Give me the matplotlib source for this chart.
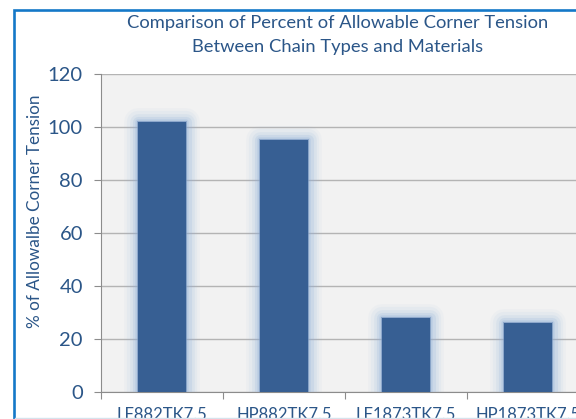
import matplotlib
matplotlib.use("Agg")
import matplotlib.pyplot as plt
import matplotlib.patheffects as pe
from matplotlib.patches import Rectangle
from matplotlib.lines import Line2D

# chart data
chain_types = ["LF882TK7.5", "HP882TK7.5", "LF1873TK7.5", "HP1873TK7.5"]
pct_allowable = [102, 95, 28, 26]
y_ticks = [0, 20, 40, 60, 80, 100, 120]

title_lines = ["Comparison of Percent of Allowable Corner Tension",
               "Between Chain Types and Materials"]
ylabel_text = "% of Allowalbe Corner Tension"

text_blue = "#2b5688"
bar_blue = "#375f93"
glow_blue = "#8fb0d8"
grid_grey = "#b4b4b4"

plt.rcParams["font.family"] = ["Lato", "DejaVu Sans"]

fig = plt.figure(figsize=(5.76, 4.19), dpi=100)

# plot area runs off the right edge, like the cropped screenshot
ax = fig.add_axes([101 / 576, 1 - 391.7 / 419, 488 / 576, 317.4 / 419])
ax.set_facecolor("#f2f2f2")

x = range(len(chain_types))
bars = ax.bar(x, pct_allowable, width=0.4, color=bar_blue, zorder=3)

# soft glow around each bar
glow = [
    pe.Stroke(linewidth=20, foreground=glow_blue, alpha=0.05, joinstyle="round"),
    pe.Stroke(linewidth=16, foreground=glow_blue, alpha=0.08, joinstyle="round"),
    pe.Stroke(linewidth=12, foreground=glow_blue, alpha=0.12, joinstyle="round"),
    pe.Stroke(linewidth=8, foreground=glow_blue, alpha=0.18, joinstyle="round"),
    pe.Stroke(linewidth=4, foreground=glow_blue, alpha=0.25, joinstyle="round"),
    pe.Stroke(linewidth=1.5, foreground="#6f8fbb", alpha=0.6),
    pe.Normal(),
]
for b in bars:
    b.set_path_effects(glow)

ax.set_xlim(-0.5, 3.5)
ax.set_ylim(0, 120)
ax.set_yticks(y_ticks)
ax.yaxis.grid(True, color=grid_grey, linewidth=1.0, zorder=0)
ax.set_axisbelow(True)

ax.set_xticks(list(x))
ax.set_xticklabels(chain_types)
ax.set_xticks([i - 0.5 for i in x] + [3.5], minor=True)
ax.tick_params(axis="x", which="major", length=0, pad=11, labelsize=12, labelcolor=text_blue)
ax.tick_params(axis="x", which="minor", length=5, color="#8c8c8c", width=0.8)
ax.tick_params(axis="y", length=5, color="#8c8c8c", width=0.8, pad=8, labelsize=14.5, labelcolor=text_blue)

for side in ["top", "right"]:
    ax.spines[side].set_visible(False)
for side in ["left", "bottom"]:
    ax.spines[side].set_color("#8c8c8c")
    ax.spines[side].set_linewidth(0.8)

# two-line title, each line placed on its own baseline
for line, base in zip(title_lines, [28.3, 51.7]):
    fig.text(337.5 / 576, 1 - base / 419, line, ha="center", va="baseline",
             fontsize=13.2, color=text_blue)
fig.text(35 / 576, 1 - 211 / 419, ylabel_text, rotation=90, ha="center", va="center",
         fontsize=12.3, color=text_blue)

# chart frame border (blue left/top edge of the screenshot)
fig.add_artist(Rectangle((13.9 / 576, -0.1), 1.2, 1 - 10 / 419 + 0.1, transform=fig.transFigure,
                         fill=False, edgecolor="#1478c8", linewidth=1.9))
fig.add_artist(Line2D([15 / 576, 1], [0.6 / 419, 0.6 / 419], transform=fig.transFigure,
                      color="#d6e2ec", linewidth=1))

fig.savefig("out.png", dpi=100)
